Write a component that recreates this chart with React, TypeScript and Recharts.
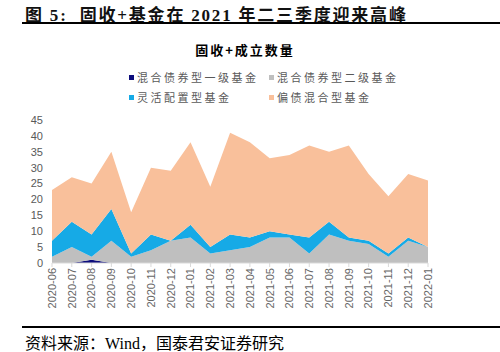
import { Area, AreaChart, XAxis, YAxis } from 'recharts'

const months = [
  '2020-06', '2020-07', '2020-08', '2020-09', '2020-10', '2020-11', '2020-12',
  '2021-01', '2021-02', '2021-03', '2021-04', '2021-05', '2021-06', '2021-07',
  '2021-08', '2021-09', '2021-10', '2021-11', '2021-12', '2022-01',
]
const bondLevel1 = [0, 0, 1, 0, 0, 0, 0, 0, 0, 0, 0, 0, 0, 0, 0, 0, 0, 0, 0, 0]
const bondLevel2 = [2, 5, 1, 7, 2, 4, 7, 8, 3, 4, 5, 8, 8, 3, 9, 7, 6, 2, 7, 5]
const flexible = [5, 8, 7, 10, 1, 5, 0, 4, 2, 5, 3, 2, 1, 5, 4, 1, 1, 1, 1, 0]
const biasedBond = [16, 14, 16, 18, 13, 21, 22, 26, 19, 32, 30, 23, 25, 29, 22, 29, 21, 18, 20, 21]
const yTicks = [0, 5, 10, 15, 20, 25, 30, 35, 40, 45]

const series = [
  { key: 'l1', name: '混合债券型一级基金', color: '#0d0d7c' },
  { key: 'l2', name: '混合债券型二级基金', color: '#bfbfbf' },
  { key: 'flex', name: '灵活配置型基金', color: '#16aae6' },
  { key: 'bias', name: '偏债混合型基金', color: '#f9c09b' },
]

const chartData = months.map((m, i) => ({
  month: m,
  l1: bondLevel1[i],
  l2: bondLevel2[i],
  flex: flexible[i],
  bias: biasedBond[i],
}))

const MonthTick = (props: any) => {
  const { x, y, payload } = props
  return (
    <text
      x={x}
      y={y - 1}
      dy="0.35em"
      transform={`rotate(-90 ${x} ${y - 1})`}
      textAnchor="end"
      fontSize={11}
      fill="#666"
      fontFamily="'Liberation Sans', Arial, sans-serif"
    >
      {payload.value}
    </text>
  )
}

export default function App() {
  return (
    <div style={{ position: 'absolute', left: 0, top: 0, width: 500, height: 352, background: '#fff', overflow: 'hidden' }}>
      <div style={{ position: 'absolute', left: 25, top: 1, fontSize: 17, fontWeight: 'bold', letterSpacing: 1.8, fontFamily: "'Liberation Serif', 'Noto Sans CJK SC', serif", whiteSpace: 'nowrap', color: '#111' }}>
        图 5:&nbsp; 固收+基金在 2021 年二三季度迎来高峰
      </div>
      <div style={{ position: 'absolute', left: 22, top: 22, width: 478, height: 2, background: '#000' }} />
      <div style={{ position: 'absolute', left: 0, width: 490, top: 40, textAlign: 'center', fontSize: 13, fontWeight: 'bold', letterSpacing: 2, fontFamily: "'Noto Sans CJK SC', sans-serif", color: '#000' }}>
        固收+成立数量
      </div>
      {series.map((s, i) => (
        <div
          key={s.key}
          style={{
            position: 'absolute',
            left: i % 2 === 0 ? 129 : 269,
            top: i < 2 ? 69 : 89,
            display: 'flex',
            alignItems: 'center',
            fontSize: 11,
            letterSpacing: 2.5,
            color: '#595959',
            fontFamily: "'Noto Sans CJK SC', sans-serif",
            whiteSpace: 'nowrap',
          }}
        >
          <span style={{ width: 5, height: 5, background: s.color, marginRight: 3 }} />
          {s.name}
        </div>
      ))}
      <div style={{ position: 'absolute', left: 0, top: 0 }}>
        <AreaChart width={500} height={320} data={chartData} margin={{ top: 120, right: 72, bottom: 7, left: 0 }}>
          <XAxis
            dataKey="month"
            interval={0}
            height={50}
            tick={<MonthTick />}
            tickLine={{ stroke: '#d9d9d9' }}
            axisLine={{ stroke: '#d9d9d9' }}
            tickSize={4}
          />
          <YAxis
            width={52}
            domain={[0, 45]}
            ticks={yTicks}
            interval={0}
            axisLine={false}
            tickLine={false}
            tickMargin={3}
            tick={{ fontSize: 11, fill: '#595959', fontFamily: "'Liberation Sans', Arial, sans-serif" }}
          />
          {series.map((s) => (
            <Area
              key={s.key}
              type="linear"
              dataKey={s.key}
              name={s.name}
              stackId="a"
              stroke="none"
              fill={s.color}
              fillOpacity={1}
              isAnimationActive={false}
            />
          ))}
        </AreaChart>
      </div>
      <div style={{ position: 'absolute', left: 22, top: 326, width: 478, height: 2, background: '#000' }} />
      <div style={{ position: 'absolute', left: 25, top: 330, fontSize: 16, fontFamily: "'Liberation Serif', 'Noto Sans CJK SC', serif", whiteSpace: 'nowrap', color: '#000' }}>
        资料来源：Wind，国泰君安证券研究
      </div>
    </div>
  )
}
